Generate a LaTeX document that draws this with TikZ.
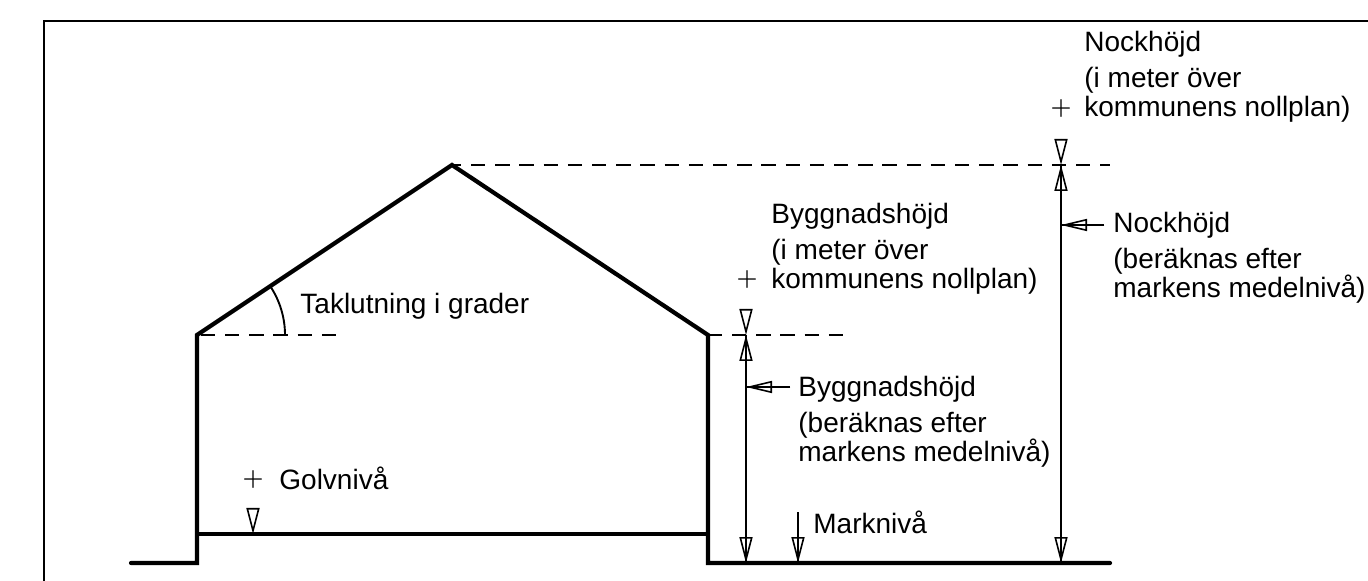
\documentclass[tikz,border=0pt]{standalone}
\usepackage{fontspec}
\setmainfont{Liberation Sans}
\usetikzlibrary{arrows.meta}

\begin{document}
\begin{tikzpicture}[x=0.5pt, y=-0.5pt]
    % Styles
    \tikzstyle{wall} = [line width=2.1pt, line join=miter, line cap=round]
    \tikzstyle{floorline} = [line width=1.6pt]
    \tikzstyle{frameline} = [line width=1pt]
    \tikzstyle{dashline} = [line width=0.8pt, dash pattern=on 7.2pt off 4.9pt]
    \tikzstyle{dimline} = [line width=0.95pt]
    \tikzstyle{opentip} = [line width=0.8pt, -{Triangle[open, length=13pt, width=6.5pt]}]
    \tikzstyle{sidetip} = [line width=0.8pt, -{Triangle[open, length=13pt, width=6pt]}]
    \tikzstyle{txt} = [anchor=base west, inner sep=0pt, align=left, font=\fontsize{14}{14.5}\selectfont]
    \tikzstyle{plusmark} = [inner sep=0pt, font=\fontsize{13}{13}\selectfont\boldmath]

    \useasboundingbox (0, 0) rectangle (1368, 581);

    % Points of the house
    \coordinate (G1) at (131, 563);
    \coordinate (G2) at (197, 563);
    \coordinate (E1) at (197, 335);
    \coordinate (R) at (452, 165);
    \coordinate (E2) at (708, 335);
    \coordinate (G3) at (708, 563);
    \coordinate (G4) at (1110, 563);
    \coordinate (F1) at (197, 534);
    \coordinate (F2) at (708, 534);

    % Frame
    \coordinate (FA) at (1368, 21);
    \coordinate (FB) at (44, 21);
    \coordinate (FC) at (44, 581);
    \draw[frameline] (FA) -- (FB) -- (FC);

    % House
    \draw[wall] (G1) -- (G2) -- (E1) -- (R) -- (E2) -- (G3) -- (G4);
    \draw[floorline] (F1) -- (F2);

    % Dashed levels
    \coordinate (D1) at (340, 335);
    \coordinate (D2) at (844, 335);
    \coordinate (D3) at (1110, 165);
    \draw[dashline, dash phase=10.2pt] (E1) -- (D1);
    \draw[dashline, dash phase=0.1pt] (E2) -- (D2);
    \draw[dashline, dash phase=2.6pt] (R) -- (D3);

    % Roof angle
    \draw[dimline] (285, 335) arc[start angle=0, end angle=-33.7, radius=88];
    \node[txt] (Tak) at (300, 314) {Taklutning i grader};

    % Floor level
    \coordinate (GT) at (253, 508);
    \coordinate (GB) at (253, 534);
    \draw[opentip] (GT) -- (GB);
    \node[plusmark] (GP) at (253, 480) {$+$};
    \node[txt] (Golv) at (279, 489) {Golvnivå};

    % Ground level
    \coordinate (MT) at (798, 512);
    \coordinate (MB) at (798, 563);
    \draw[dimline] (MT) -- (MB);
    \draw[opentip] (MT) -- (MB);
    \node[txt] (Mark) at (813, 533) {Marknivå};

    % Building height
    \coordinate (BT) at (746, 309);
    \coordinate (BL) at (746, 335);
    \coordinate (BB) at (746, 563);
    \coordinate (BS) at (790, 387);
    \coordinate (BD) at (746, 387);
    \draw[dimline] (BL) -- (BB);
    \draw[opentip] (BT) -- (BL);
    \draw[opentip] (BL) -- (BB);
    \draw[opentip] (BB) -- (BL);
    \draw[dimline] (BS) -- (BD);
    \draw[sidetip] (BS) -- (BD);
    \node[plusmark] (BP) at (747, 280) {$+$};
    \node[txt] (Byggtop) at (771, 289) {Byggnadshöjd\\[3.5pt](i meter över\\kommunens nollplan)};
    \node[txt] (Byggside) at (798, 462) {Byggnadshöjd\\[3.5pt](beräknas efter\\markens medelnivå)};

    % Ridge height
    \coordinate (NT) at (1061, 139);
    \coordinate (NL) at (1061, 165);
    \coordinate (NB) at (1061, 563);
    \coordinate (NS) at (1104, 225);
    \coordinate (ND) at (1061, 225);
    \draw[dimline] (NL) -- (NB);
    \draw[opentip] (NT) -- (NL);
    \draw[opentip] (NL) -- (NB);
    \draw[opentip] (NB) -- (NL);
    \draw[dimline] (NS) -- (ND);
    \draw[sidetip] (NS) -- (ND);
    \node[plusmark] (NP) at (1061, 109) {$+$};
    \node[txt] (Nocktop) at (1084, 117) {Nockhöjd\\[3.5pt](i meter över\\kommunens nollplan)};
    \node[txt] (Nockside) at (1113, 298) {Nockhöjd\\[3.5pt](beräknas efter\\markens medelnivå)};
\end{tikzpicture}
\end{document}
